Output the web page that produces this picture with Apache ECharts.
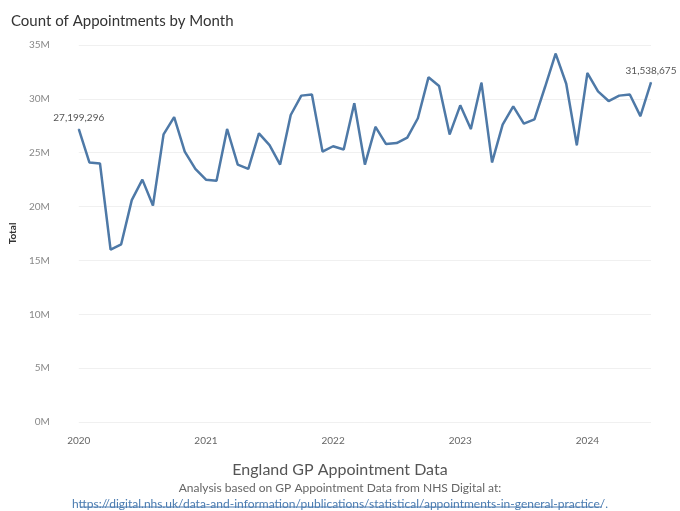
<!DOCTYPE html>
<html>
<head>
<meta charset="utf-8">
<script src="https://cdn.jsdelivr.net/npm/echarts@6/dist/echarts.min.js"></script>
<style>
  body { margin: 0; background: #fff; }
  #chart { width: 680px; height: 511px; }
</style>
</head>
<body>
<div id="chart"></div>
<script>
// months Jan 2020 .. Jul 2024
var months = [];
for (var y = 2020; y <= 2024; y++) {
  for (var m = 1; m <= 12; m++) {
    if (y === 2024 && m > 7) break;
    months.push(y + '-' + (m < 10 ? '0' + m : m));
  }
}

// appointments, millions
var totals = [
  27.199296, 24.1, 24.0, 16.0, 16.5, 20.6, 22.5, 20.1, 26.7, 28.3, 25.1, 23.5,
  22.5, 22.4, 27.2, 23.9, 23.5, 26.8, 25.7, 23.9, 28.5, 30.3, 30.4, 25.1,
  25.6, 25.3, 29.6, 23.9, 27.4, 25.8, 25.9, 26.4, 28.2, 32.0, 31.2, 26.7,
  29.4, 27.2, 31.5, 24.1, 27.6, 29.3, 27.7, 28.1, 31.1, 34.2, 31.4, 25.7,
  32.4, 30.7, 29.8, 30.3, 30.4, 28.4, 31.538675
];
var values = totals.map(function (v, i) {
  var n = Math.round(v * 1e6);
  if (i === 0 || i === totals.length - 1) {
    return { value: n, label: { show: true } };
  }
  return n;
});

var chart = echarts.init(document.getElementById('chart'));
chart.setOption({
  animation: false,
  title: [
    { text: 'Count of Appointments by Month', left: 6, top: 9,
      textStyle: { fontFamily: 'Lato', fontSize: 15, fontWeight: 'normal', color: '#333' } },
    { text: 'England GP Appointment Data', left: 'center', top: 457,
      textStyle: { fontFamily: 'Lato', fontSize: 16, fontWeight: 'normal', color: '#555' } },
    { text: 'Analysis based on GP Appointment Data from NHS Digital at:', left: 'center', top: 477,
      textStyle: { fontFamily: 'Lato', fontSize: 12, fontWeight: 'normal', color: '#666' } },
    { text: '{u|https://digital.nhs.uk/data-and-information/publications/statistical/appointments-in-general-practice/.}',
      left: 'center', top: 493,
      textStyle: { fontFamily: 'Lato', fontSize: 12, fontWeight: 'normal',
        rich: { u: { fontFamily: 'Lato', fontSize: 12, color: '#4a7bb0' } } } }
  ],
  graphic: [{ type: 'line', shape: { x1: 80, y1: 507, x2: 602, y2: 507 },
    style: { stroke: '#4a7bb0', lineWidth: 1 } }],
  grid: { left: 74, right: 29, top: 45, bottom: 89 },
  xAxis: {
    type: 'category', data: months, boundaryGap: false,
    axisLine: { show: false }, axisTick: { show: false },
    axisLabel: {
      interval: function (i, v) { return v.slice(5) === '01'; },
      formatter: function (v) { return v.slice(0, 4); },
      color: '#666', fontFamily: 'Lato', fontSize: 10, margin: 14
    },
    splitLine: { show: false }
  },
  yAxis: {
    type: 'value', min: 0, max: 35000000, interval: 5000000,
    name: 'Total', nameLocation: 'middle', nameGap: 55,
    nameTextStyle: { fontFamily: 'Lato', fontSize: 10, color: '#333', fontWeight: 'bold' },
    axisLabel: { formatter: function (v) { return v / 1e6 + 'M'; }, color: '#888',
      fontFamily: 'Lato', fontSize: 10, margin: 29 },
    splitLine: { lineStyle: { color: '#f0f0f0' } }
  },
  series: [{
    type: 'line', data: values,
    symbol: 'circle', symbolSize: 1, showAllSymbol: true,
    itemStyle: { color: '#4e79a7' },
    lineStyle: { color: '#4e79a7', width: 2.5 },
    label: {
      show: false, position: 'top', distance: 6,
      color: '#555', fontFamily: 'Lato', fontSize: 10,
      formatter: function (p) { return p.value.toLocaleString('en-US'); }
    }
  }]
});
</script>
</body>
</html>
